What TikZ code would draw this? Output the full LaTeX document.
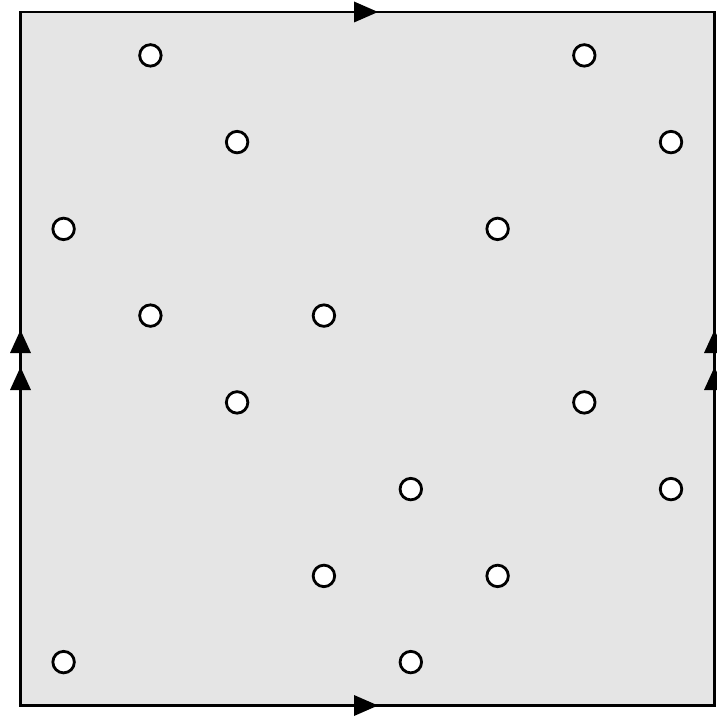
\documentclass[tikz,border=0pt]{standalone}
\definecolor{bgfill}{RGB}{229,229,229}
\tikzset{
  pt/.style={circle,draw=black,fill=white,line width=2.8pt,minimum size=21.5pt,inner sep=0pt},
  edge/.style={line width=2.6pt,draw=black}
}
\begin{document}
\begin{tikzpicture}[x=1pt,y=-1pt]
\useasboundingbox (0,0) rectangle (716,719);
\fill[bgfill] (20.5,12) rectangle (714.5,705.5);
\draw[edge,line cap=rect] (20.5,12) rectangle (714.5,705.5);
% arrowheads
\fill (378,12) -- (354,1.5) -- (354,22.5) -- cycle;
\fill (378,705.5) -- (354,695) -- (354,716) -- cycle;
\foreach \xx in {20.5,714.5}{
  \fill (\xx,330) -- (\xx-10.5,353) -- (\xx+10.5,353) -- cycle;
  \fill (\xx,367) -- (\xx-10.5,390) -- (\xx+10.5,390) -- cycle;
}
% points
\node[pt] (p1) at (150.4,55.4) {};
\node[pt] (p2) at (584.3,55.4) {};
\node[pt] (p3) at (237.1,142.1) {};
\node[pt] (p4) at (671.0,142.1) {};
\node[pt] (p5) at (63.6,228.9) {};
\node[pt] (p6) at (497.6,228.9) {};
\node[pt] (p7) at (150.4,315.6) {};
\node[pt] (p8) at (323.9,315.6) {};
\node[pt] (p9) at (237.1,402.4) {};
\node[pt] (p10) at (584.3,402.4) {};
\node[pt] (p11) at (410.8,489.1) {};
\node[pt] (p12) at (671.0,489.1) {};
\node[pt] (p13) at (323.9,575.9) {};
\node[pt] (p14) at (497.6,575.9) {};
\node[pt] (p15) at (63.6,662.1) {};
\node[pt] (p16) at (410.8,662.1) {};
\end{tikzpicture}
\end{document}
